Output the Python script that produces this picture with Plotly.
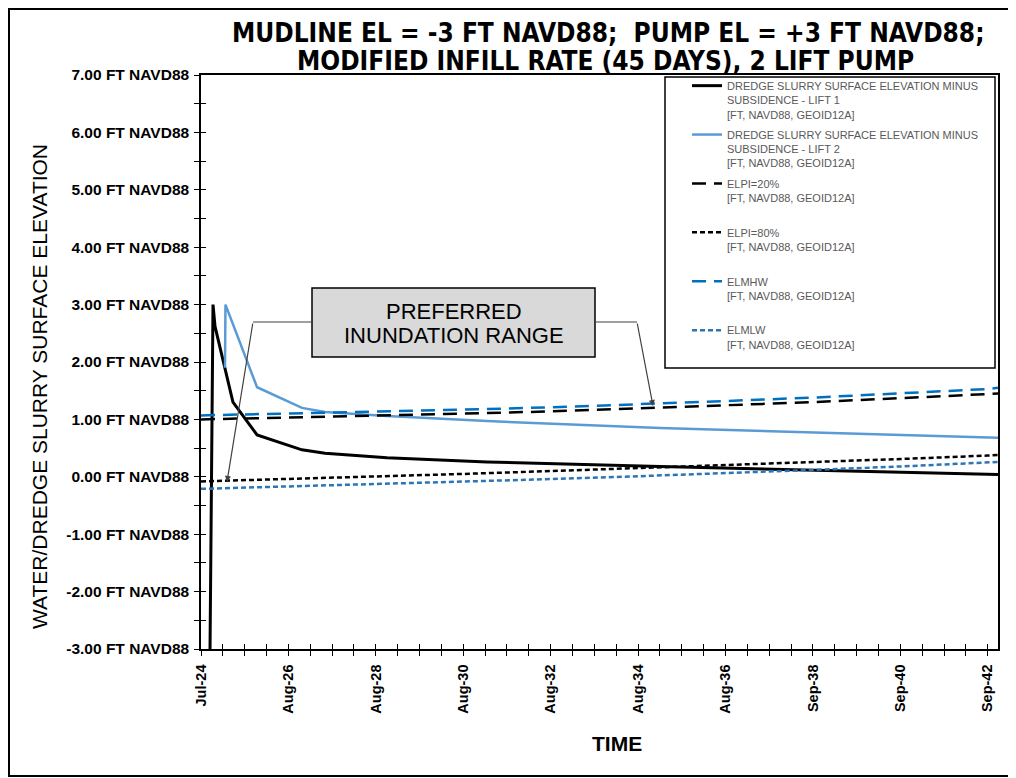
import pandas as pd
import plotly.graph_objects as go

# ---------------- data ----------------
x_tick_dates = ["2024-07-29", "2026-08-04", "2028-08-09", "2030-08-15", "2032-08-20",
                "2034-08-26", "2036-08-31", "2038-09-06", "2040-09-11", "2042-09-17"]
x_tick_labels = ["Jul-24", "Aug-26", "Aug-28", "Aug-30", "Aug-32",
                 "Aug-34", "Aug-36", "Sep-38", "Sep-40", "Sep-42"]
x_end = "2042-12-12"

y_tick_vals = [7, 6, 5, 4, 3, 2, 1, 0, -1, -2, -3]
y_tick_labels = ["7.00 FT NAVD88", "6.00 FT NAVD88", "5.00 FT NAVD88", "4.00 FT NAVD88",
                 "3.00 FT NAVD88", "2.00 FT NAVD88", "1.00 FT NAVD88", "0.00 FT NAVD88",
                 "-1.00 FT NAVD88", "-2.00 FT NAVD88", "-3.00 FT NAVD88"]

lift1_dates = ["2024-10-13", "2024-11-07", "2024-11-24", "2025-02-16", "2025-04-24",
               "2025-11-13", "2026-11-26", "2027-06-08", "2028-11-11", "2031-03-03",
               "2035-02-27", "2042-12-12"]
lift1_vals = [-3.0, 3.0, 2.62, 1.90, 1.30, 0.73, 0.47, 0.41, 0.33, 0.26, 0.18, 0.04]

lift2_dates = ["2025-02-16", "2025-02-20", "2025-11-13", "2026-11-26", "2027-06-08",
               "2028-11-11", "2031-03-03", "2035-02-27", "2042-12-12"]
lift2_vals = [1.90, 3.0, 1.56, 1.20, 1.13, 1.06, 0.97, 0.85, 0.68]

tide_dates = x_tick_dates + [x_end]
elpi20_vals = [1.00, 1.03, 1.06, 1.10, 1.14, 1.19, 1.24, 1.30, 1.37, 1.44, 1.45]
elpi80_vals = [-0.08, -0.04, 0.00, 0.05, 0.10, 0.15, 0.20, 0.25, 0.31, 0.37, 0.38]
elmhw_vals = [1.07, 1.10, 1.13, 1.17, 1.21, 1.26, 1.32, 1.38, 1.45, 1.53, 1.55]
elmlw_vals = [-0.21, -0.17, -0.13, -0.09, -0.04, 0.01, 0.06, 0.12, 0.18, 0.25, 0.26]

UNIT = "[FT, NAVD88, GEOID12A]"
names = [
    "DREDGE SLURRY SURFACE ELEVATION MINUS<br>SUBSIDENCE - LIFT 1<br>" + UNIT,
    "DREDGE SLURRY SURFACE ELEVATION MINUS<br>SUBSIDENCE - LIFT 2<br>" + UNIT,
    "ELPI=20%<br>" + UNIT + "<br>\u00a0",
    "ELPI=80%<br>" + UNIT + "<br>\u00a0",
    "ELMHW<br>" + UNIT + "<br>\u00a0",
    "ELMLW<br>" + UNIT + "<br>\u00a0",
]

# ---------------- layout helpers ----------------
# positions below are in screenshot pixels; the page body adds an 8px offset
OFF = 8
L, R, T, B = 201, 998, 75, 649
W, H = 1016 - OFF, 778 - OFF


def px(x):
    return (x - L) / (R - L)


def py(y):
    return (B - y) / (B - T)


major = pd.to_datetime(x_tick_dates)
minor_ticks = []
for a, b in zip(major[:-1], major[1:]):
    for k in (1, 2, 3):
        minor_ticks.append(a + (b - a) * k / 4)
minor_ticks = [d.strftime("%Y-%m-%d") for d in minor_ticks]
y_minor = [v + 0.5 for v in range(-3, 7)]

fig = go.Figure()
styles = [
    dict(color="black", width=3),
    dict(color="#5b9bd5", width=2.5),
    dict(color="black", width=2.5, dash="14px,8px"),
    dict(color="black", width=2.5, dash="5px,3px"),
    dict(color="#0070c0", width=2.5, dash="14px,8px"),
    dict(color="#2e75b6", width=2.5, dash="5px,3px"),
]
series = [
    (lift1_dates, lift1_vals),
    (lift2_dates, lift2_vals),
    (tide_dates, elpi20_vals),
    (tide_dates, elpi80_vals),
    (tide_dates, elmhw_vals),
    (tide_dates, elmlw_vals),
]
for i, ((xs, ys), st) in enumerate(zip(series, styles)):
    fig.add_trace(go.Scatter(x=xs, y=ys, mode="lines", name=names[i], line=st,
                             legendgroup=f"g{i}"))
# empty trace that activates the overlay axes (inner half of the crossing ticks)
fig.add_trace(go.Scatter(x=[], y=[], xaxis="x2", yaxis="y2", showlegend=False,
                         hoverinfo="skip"))

AX = "Liberation Sans, Arial, sans-serif"
xrange_ = [x_tick_dates[0], x_end]
yrange_ = [-3, 7]

fig.update_layout(
    width=W, height=H,
    margin=dict(l=L - OFF, r=W - (R - OFF), t=T - OFF, b=H - (B - OFF), autoexpand=False),
    paper_bgcolor="white", plot_bgcolor="white",
    font=dict(family=AX, color="black"),
    xaxis=dict(type="date", range=xrange_, tickmode="array", tickvals=x_tick_dates,
               ticktext=x_tick_labels, tickangle=-90, ticks="outside", ticklen=5,
               tickwidth=1.2, tickcolor="black",
               tickfont=dict(family=AX, size=14.5, color="black", weight="bold"),
               minor=dict(tickvals=minor_ticks, ticks="outside", ticklen=5,
                          tickwidth=1.2, tickcolor="black"),
               showline=True, mirror=True, linecolor="black", linewidth=1.5,
               showgrid=False, zeroline=False, ticklabelstandoff=3),
    yaxis=dict(range=yrange_, tickmode="array", tickvals=y_tick_vals, ticktext=y_tick_labels,
               ticks="outside", ticklen=5, tickwidth=1.2, tickcolor="black",
               tickfont=dict(family=AX, size=15.5, color="black", weight="bold"),
               minor=dict(tickvals=y_minor, ticks="outside", ticklen=5, tickwidth=1.2,
                          tickcolor="black"),
               showline=True, mirror=True, linecolor="black", linewidth=1.5,
               showgrid=False, zeroline=False, ticklabelstandoff=2),
    xaxis2=dict(type="date", range=xrange_, overlaying="x", anchor="y", side="bottom",
                tickmode="array", tickvals=x_tick_dates, ticks="inside", ticklen=5,
                tickwidth=1.2, tickcolor="black", showticklabels=False,
                minor=dict(tickvals=minor_ticks, ticks="inside", ticklen=5, tickwidth=1.2,
                           tickcolor="black"),
                showline=False, showgrid=False, zeroline=False),
    yaxis2=dict(range=yrange_, overlaying="y", anchor="x", side="left",
                tickmode="array", tickvals=y_tick_vals, ticks="inside", ticklen=5,
                tickwidth=1.2, tickcolor="black", showticklabels=False,
                minor=dict(tickvals=y_minor, ticks="inside", ticklen=5, tickwidth=1.2,
                           tickcolor="black"),
                showline=False, showgrid=False, zeroline=False),
    legend=dict(x=px(687), y=py(72), xanchor="left", yanchor="top",
                bgcolor="rgba(0,0,0,0)", borderwidth=0, valign="top",
                font=dict(family=AX, size=11, color="#595959"),
                traceorder="grouped", tracegroupgap=3),
    showlegend=True,
)

TITLE_FONT = "DejaVu Sans Condensed, Liberation Sans Narrow, sans-serif"


def label(text, x, y, size, family=AX, angle=0):
    return dict(text=text, x=px(x), y=py(y), xref="paper", yref="paper", showarrow=False,
                xanchor="center", yanchor="middle", textangle=angle,
                font=dict(family=family, size=size, color="black"))


annotations = [
    label("<b>MUDLINE EL = -3 FT NAVD88;  PUMP EL = +3 FT NAVD88;</b>", 608, 33, 26, TITLE_FONT),
    label("<b>MODIFIED INFILL RATE (45 DAYS), 2 LIFT PUMP</b>", 605, 61, 26, TITLE_FONT),
    label("WATER/DREDGE SLURRY SURFACE ELEVATION", 39, 387, 21, AX, -90),
    label("<b>TIME</b>", 617, 743, 21),
    label("PREFERRED", 454, 311, 22),
    label("INUNDATION RANGE", 454, 335, 22),
    dict(text="", x=px(227), y=py(482), xref="paper", yref="paper", showarrow=True,
         ax=253 - 227, ay=322 - 482, arrowhead=2, arrowsize=1, arrowwidth=1.2,
         arrowcolor="#404040"),
    dict(text="", x=px(653), y=py(406), xref="paper", yref="paper", showarrow=True,
         ax=637 - 653, ay=322 - 406, arrowhead=2, arrowsize=1, arrowwidth=1.2,
         arrowcolor="#404040"),
]
fig.update_layout(annotations=annotations)

shapes = [
    # outer chart frame
    dict(type="rect", xref="paper", yref="paper", x0=px(OFF + 1), x1=px(1012), y0=py(776),
         y1=py(OFF + 1), line=dict(color="black", width=2), fillcolor="rgba(0,0,0,0)",
         layer="above"),
    # legend frame
    dict(type="rect", xref="paper", yref="paper", x0=px(665), x1=px(995), y0=py(368), y1=py(77),
         line=dict(color="black", width=1.5), fillcolor="white", layer="above"),
    # annotation box
    dict(type="rect", xref="paper", yref="paper", x0=px(312), x1=px(595), y0=py(357), y1=py(288),
         line=dict(color="black", width=1.5), fillcolor="#d9d9d9", layer="above"),
    # leader lines
    dict(type="line", xref="paper", yref="paper", x0=px(253), x1=px(312), y0=py(322), y1=py(322),
         line=dict(color="#404040", width=1.2), layer="above"),
    dict(type="line", xref="paper", yref="paper", x0=px(595), x1=px(637), y0=py(322), y1=py(322),
         line=dict(color="#404040", width=1.2), layer="above"),
]
fig.update_layout(shapes=shapes)

fig.write_html("out.html")
